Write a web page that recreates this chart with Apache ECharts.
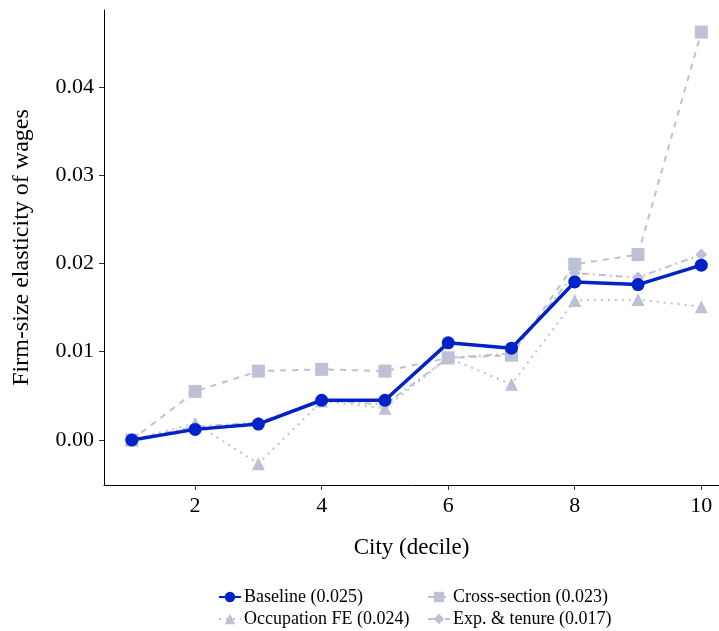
<!DOCTYPE html>
<html>
<head>
<meta charset="utf-8">
<script src="https://cdn.jsdelivr.net/npm/echarts@6/dist/echarts.min.js"></script>
<style>
html, body { margin: 0; padding: 0; background: #fff; }
#chart { width: 719px; height: 631px; }
</style>
</head>
<body>
<div id="chart"></div>
<script>
// city deciles
let deciles = [1, 2, 3, 4, 5, 6, 7, 8, 9, 10];
// series values
let baseline = [0.0000, 0.0012, 0.0018, 0.0045, 0.0045, 0.0110, 0.0104, 0.0179, 0.0176, 0.0198];
let crossSection = [0.0000, 0.0055, 0.0078, 0.0080, 0.0078, 0.0093, 0.0096, 0.0199, 0.0210, 0.0462];
let occupationFE = [0.0000, 0.0019, -0.0027, 0.0044, 0.0036, 0.0093, 0.0063, 0.0158, 0.0159, 0.0151];
let expTenure = [0.0000, 0.0015, 0.0020, 0.0045, 0.0040, 0.0093, 0.0098, 0.0189, 0.0184, 0.0210];
// tick labels
let xTicks = [2, 4, 6, 8, 10];
let yTicks = [0, 0.01, 0.02, 0.03, 0.04];

let names = ['Baseline (0.025)', 'Cross-section (0.023)', 'Occupation FE (0.024)', 'Exp. & tenure (0.017)'];

const FONT = 'Liberation Serif';
const BLUE = '#0022c8';
const GREY = '#bcc1d5';

function pairs(vals) {
  return deciles.map(function (d, i) { return [d, vals[i]]; });
}

// one legend per entry so the 2x2 layout lines up like the original
function legendAt(name, left, top) {
  return {
    data: [name],
    left: left, top: top,
    padding: 0,
    itemWidth: 22, itemHeight: 13, itemGap: 0,
    textStyle: { fontFamily: FONT, fontSize: 18, color: '#000', padding: [0, 0, 0, -2] }
  };
}

var myChart = echarts.init(document.getElementById('chart'));
var option = {
  animation: false,
  backgroundColor: '#fff',
  textStyle: { fontFamily: FONT },
  grid: { left: 104, top: 10, right: 0, bottom: 146, containLabel: false, outerBoundsMode: 'none' },
  xAxis: {
    type: 'value',
    min: 0.56,
    max: 10.28,
    name: 'City (decile)',
    nameLocation: 'middle',
    nameGap: 51,
    nameTextStyle: { fontFamily: FONT, fontSize: 23, color: '#000' },
    axisLine: { onZero: false, lineStyle: { color: '#000', width: 1 } },
    axisTick: { show: true, length: 5, customValues: xTicks, lineStyle: { color: '#333' } },
    axisLabel: { customValues: xTicks, fontFamily: FONT, fontSize: 22, color: '#000', margin: 10 },
    splitLine: { show: false }
  },
  yAxis: {
    type: 'value',
    min: -0.0051,
    max: 0.0487,
    name: 'Firm-size elasticity of wages',
    nameLocation: 'middle',
    nameGap: 70,
    nameTextStyle: { fontFamily: FONT, fontSize: 24, color: '#000' },
    axisLine: { show: true, onZero: false, lineStyle: { color: '#000', width: 1 } },
    axisTick: { show: true, length: 5, customValues: yTicks, lineStyle: { color: '#333' } },
    axisLabel: {
      customValues: yTicks, fontFamily: FONT, fontSize: 22, color: '#000', margin: 10,
      formatter: function (v) { return v.toFixed(2); }
    },
    splitLine: { show: false }
  },
  legend: [
    legendAt(names[0], 218, 588),
    legendAt(names[1], 427, 588),
    legendAt(names[2], 218, 610),
    legendAt(names[3], 427, 610)
  ],
  series: [
    {
      name: names[1], type: 'line', data: pairs(crossSection), z: 2,
      symbol: 'rect', symbolSize: 13,
      itemStyle: { color: GREY },
      lineStyle: { color: GREY, width: 2, type: [6, 6] }
    },
    {
      name: names[2], type: 'line', data: pairs(occupationFE), z: 2,
      symbol: 'triangle', symbolSize: 13,
      itemStyle: { color: GREY },
      lineStyle: { color: GREY, width: 2, type: [2, 5] }
    },
    {
      name: names[3], type: 'line', data: pairs(expTenure), z: 2,
      symbol: 'diamond', symbolSize: 12,
      itemStyle: { color: GREY },
      lineStyle: { color: GREY, width: 2, type: [7, 4, 2, 4] }
    },
    {
      name: names[0], type: 'line', data: pairs(baseline), z: 5,
      symbol: 'circle', symbolSize: 13,
      itemStyle: { color: BLUE },
      lineStyle: { color: BLUE, width: 3.5 }
    }
  ]
};
myChart.setOption(option);
</script>
</body>
</html>
